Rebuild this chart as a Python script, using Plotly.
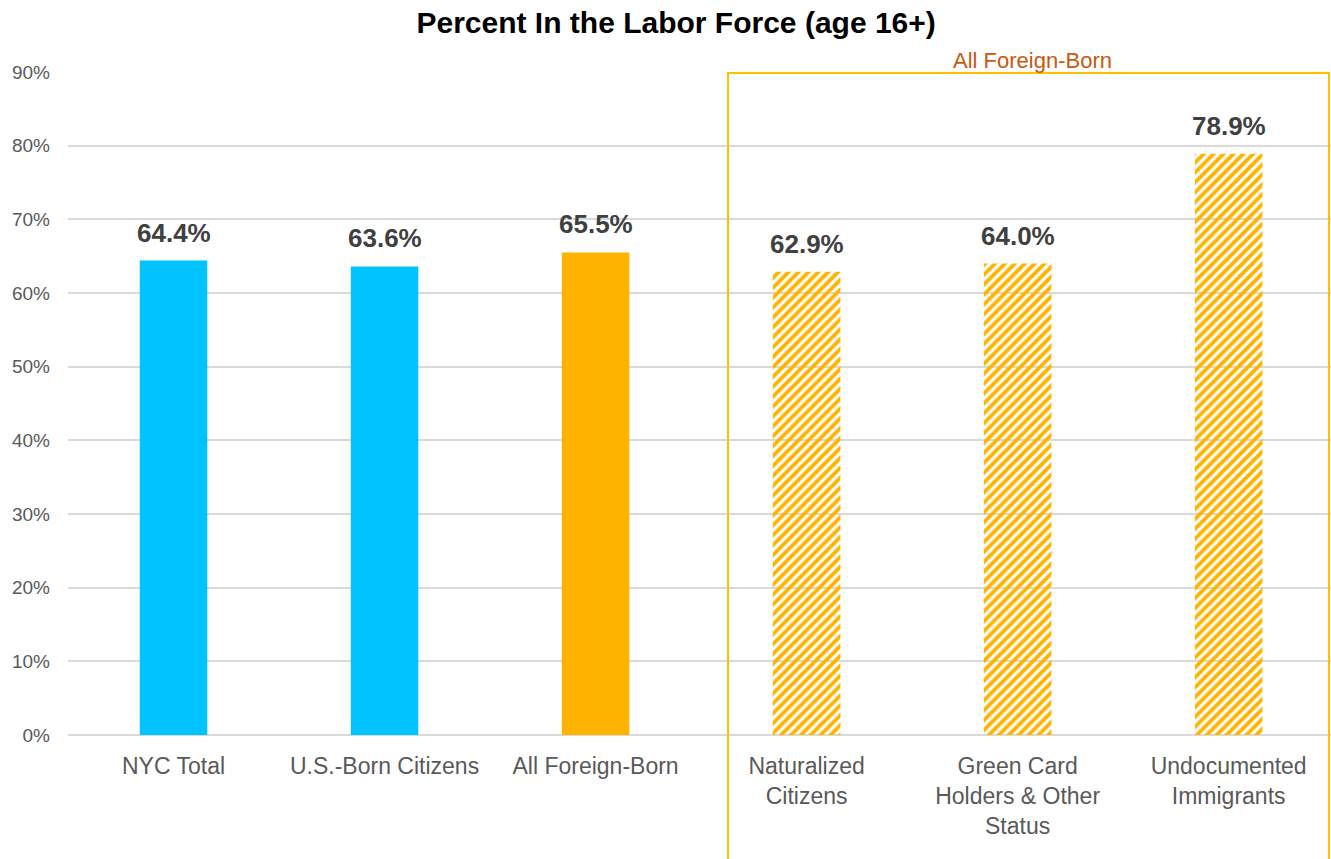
import plotly.graph_objects as go

# Labor force participation by nativity / status
categories = [
    "NYC Total",
    "U.S.-Born Citizens",
    "All Foreign-Born",
    "Naturalized<br>Citizens",
    "Green Card<br>Holders & Other<br>Status",
    "Undocumented<br>Immigrants",
]
values = [64.4, 63.6, 65.5, 62.9, 64.0, 78.9]
bar_colors = ["#00C3FF", "#00C3FF", "#FDB300", "#FDB300", "#FDB300", "#FDB300"]
hatched = [False, False, False, True, True, True]

y_ticks = [0, 10, 20, 30, 40, 50, 60, 70, 80, 90]
y_tick_text = [f"{v}%" for v in y_ticks]

FONT = "Liberation Sans, Arial, Helvetica, sans-serif"
BAR_WIDTH = 0.32

solid_idx = [i for i, h in enumerate(hatched) if not h]
hatch_idx = [i for i, h in enumerate(hatched) if h]

fig = go.Figure()
fig.add_trace(go.Bar(
    x=[categories[i] for i in solid_idx],
    y=[values[i] for i in solid_idx],
    marker=dict(color=[bar_colors[i] for i in solid_idx], line=dict(width=0)),
    width=BAR_WIDTH,
))
fig.add_trace(go.Bar(
    x=[categories[i] for i in hatch_idx],
    y=[values[i] for i in hatch_idx],
    marker=dict(
        color=[bar_colors[i] for i in hatch_idx],
        line=dict(width=0),
        pattern=dict(shape="/", fillmode="replace", bgcolor="#FFFFFF",
                     size=7, solidity=0.55),
    ),
    width=BAR_WIDTH,
))

# Value labels above each bar
for cat, v in zip(categories, values):
    fig.add_annotation(
        x=cat, y=v, text=f"<b>{v:.1f}%</b>", showarrow=False,
        yanchor="bottom", yshift=11,
        font=dict(family=FONT, size=26, color="#404040"),
    )

# Bracket around the foreign-born breakdown
fig.add_shape(
    type="rect", xref="paper", yref="paper",
    x0=0.5226, x1=0.9984, y0=-0.19, y1=0.9985,
    line=dict(color="#FFC000", width=2), fillcolor="rgba(0,0,0,0)",
)
fig.add_annotation(
    text="All Foreign-Born", xref="paper", yref="paper",
    x=0.764, y=1.0, yanchor="bottom", xanchor="center", showarrow=False,
    font=dict(family=FONT, size=22, color="#C55A11"), yshift=-3,
)

fig.update_layout(
    width=1331, height=859,
    margin=dict(l=68, r=0, t=72, b=124),
    paper_bgcolor="white", plot_bgcolor="white",
    showlegend=False,
    barmode="overlay",
    title=dict(
        text="<b>Percent In the Labor Force (age 16+)</b>",
        x=0.508, xanchor="center", y=0.974, yanchor="middle",
        font=dict(family=FONT, size=30, color="#000000"),
    ),
    font=dict(family=FONT),
    xaxis=dict(
        range=[-0.5, 5.485],
        showgrid=False, showline=False, zeroline=False,
        tickfont=dict(family=FONT, size=23, color="#595959"),
        ticklabelstandoff=15,
    ),
    yaxis=dict(
        range=[0, 90],
        tickvals=y_ticks, ticktext=y_tick_text,
        showgrid=True, gridcolor="#D9D9D9", gridwidth=2,
        zeroline=True, zerolinecolor="#D9D9D9", zerolinewidth=2,
        showline=False,
        tickfont=dict(family=FONT, size=19, color="#595959"),
        ticklabelstandoff=17,
    ),
)

fig.write_html("out.html")
